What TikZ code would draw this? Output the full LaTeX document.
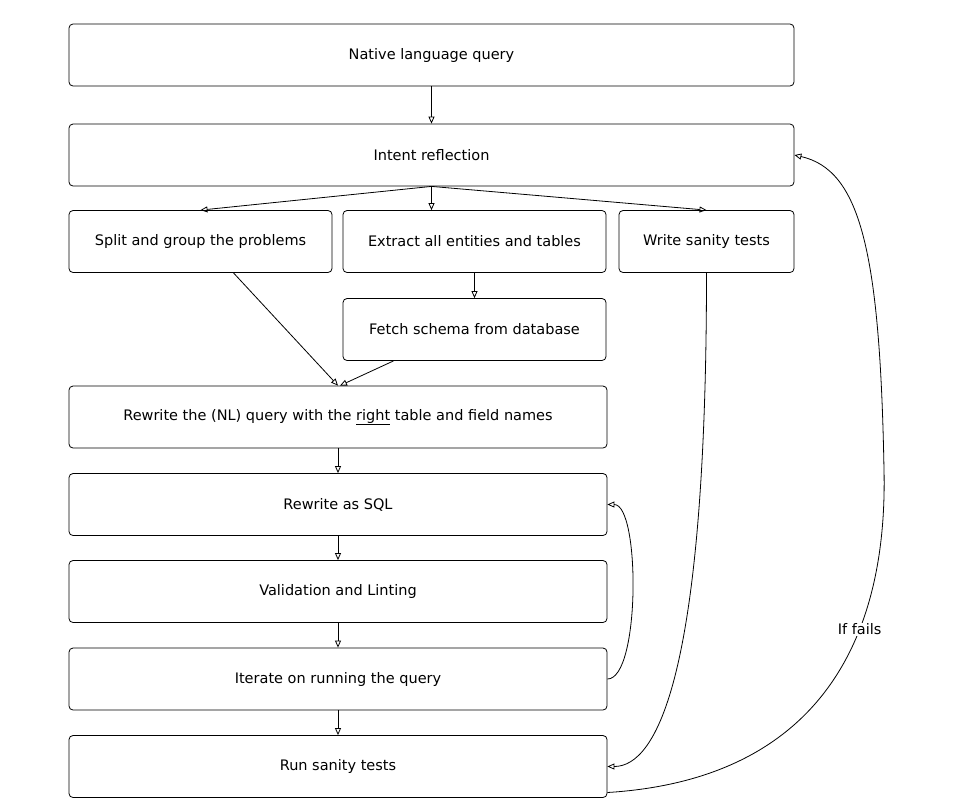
\documentclass[tikz,border=0pt]{standalone}
\usepackage{fontspec}
\setmainfont{DejaVu Sans}
\usepackage{tikz}
\usetikzlibrary{arrows.meta}

\begin{document}
\begin{tikzpicture}[x=1pt,y=-1pt,
  every node/.style={font=\fontsize{14.5}{17}\selectfont},
  box/.style={draw,rounded corners=4pt,line width=0.8pt,minimum height=62pt,inner sep=0pt},
  wide/.style={box,minimum width=725pt},
  mid/.style={box,minimum width=538pt},
  small/.style={box,minimum width=263pt},
  flow/.style={line width=0.8pt,-{Triangle[open,length=7pt,width=6pt]}}]
\useasboundingbox (0,0) rectangle (958,807);
\node[wide] (nlq) at (431.5,55) {Native language query};
\node[wide] (intent) at (431.5,155) {Intent reflection};
\node[small] (split) at (200.5,241.5) {Split and group the problems};
\node[small] (extract) at (474.5,241.5) {Extract all entities and tables};
\node[box,minimum width=175pt] (write) at (706.5,241.5) {Write sanity tests};
\node[small] (fetch) at (474.5,329.5) {Fetch schema from database};
\node[mid] (rewrite) at (338,417) {Rewrite the (NL) query with the \underline{right} table and field names};
\node[mid] (sql) at (338,504.5) {Rewrite as SQL};
\node[mid] (valid) at (338,591.5) {Validation and Linting};
\node[mid] (iterate) at (338,679) {Iterate on running the query};
\node[mid] (run) at (338,766.5) {Run sanity tests};
% straight connectors
\draw[flow] (nlq) -- (intent);
\draw[flow] (intent.south) -- (split.north);
\draw[flow] (intent.south) -- (intent.south |- extract.north);
\draw[flow] (intent.south) -- (write.north);
\draw[flow] (extract) -- (fetch);
\draw[flow] ([xshift=33pt]split.south) -- (rewrite.north);
\draw[flow] ([xshift=-81pt]fetch.south) -- ([xshift=2pt]rewrite.north);
\draw[flow] (rewrite) -- (sql);
\draw[flow] (sql) -- (valid);
\draw[flow] (valid) -- (iterate);
\draw[flow] (iterate) -- (run);
% loops
\draw[flow] (iterate.east) .. controls +(33,0) and +(33,0) .. (sql.east);
\draw[flow] (write.south) .. controls +(0,400) and +(50,0) .. (run.east);
\draw[flow] ([yshift=-26pt]run.east) .. controls (810,780) and (888,650) .. (884,470)
  node[pos=0.67,fill=white,inner sep=1pt] (fails) {If fails}
  .. controls (880,250) and (860,170) .. (intent.east);
\end{tikzpicture}
\end{document}
